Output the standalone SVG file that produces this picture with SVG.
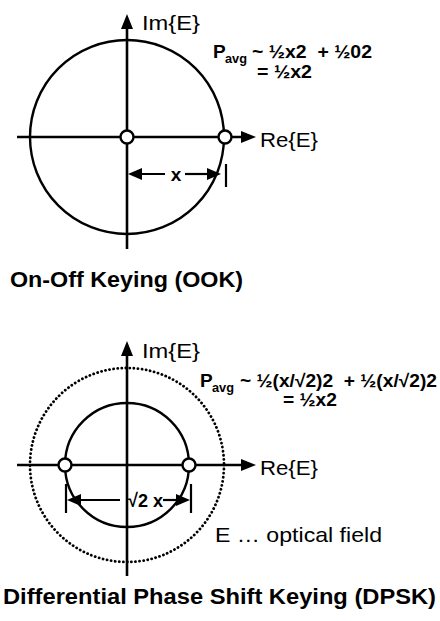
<svg xmlns="http://www.w3.org/2000/svg" width="440" height="621" viewBox="0 0 440 621">
<style>
.ax{stroke:#000;stroke-width:2.6;fill:none}
.cir{stroke:#000;stroke-width:2.4;fill:none}
.dot{stroke:#000;stroke-width:2.8;fill:none;stroke-linecap:round;stroke-dasharray:0.1 4}
.pt{stroke:#000;stroke-width:2.4;fill:#fff}
.dim{stroke:#000;stroke-width:2.2;fill:none}
.ah{fill:#000;stroke:none}
.lab{font-family:"Liberation Sans",Arial,sans-serif;font-size:21px;fill:#000}
.b{font-family:"Liberation Sans",Arial,sans-serif;font-weight:bold;fill:#000}
</style>
<rect width="440" height="621" fill="#fff"/>

<g id="ook">
  <circle class="cir" cx="127" cy="137" r="97"/>
  <g id="ook-axes">
    <line class="ax" x1="127" y1="249" x2="127" y2="26"/>
    <polygon class="ah" points="127,14 121,29 133,29"/>
    <line class="ax" x1="17" y1="137" x2="244" y2="137"/>
    <polygon class="ah" points="256,137 241,131 241,143"/>
  </g>
  <circle id="ook-p0" class="pt" cx="127" cy="137" r="6.5"/>
  <circle id="ook-p1" class="pt" cx="225" cy="137" r="6.5"/>
  <g id="ook-dim">
    <line class="dim" x1="132" y1="174" x2="165" y2="174"/>
    <polygon class="ah" points="128,174 142,168 142,180"/>
    <line class="dim" x1="185" y1="174" x2="216" y2="174"/>
    <polygon class="ah" points="221,174 207,168 207,180"/>
    <line class="dim" x1="226" y1="164" x2="226" y2="187"/>
    <text class="b" x="176" y="181" font-size="19" text-anchor="middle">x</text>
  </g>
  <text class="lab" x="142" y="30" textLength="58" lengthAdjust="spacingAndGlyphs">Im{E}</text>
  <text class="lab" x="260" y="147" textLength="58" lengthAdjust="spacingAndGlyphs">Re{E}</text>
  <g id="ook-formula">
    <text class="b" x="213" y="58" font-size="19">P</text>
    <text class="b" x="225" y="63" font-size="13" textLength="22" lengthAdjust="spacingAndGlyphs">avg</text>
    <text class="b" x="252" y="58" font-size="18" xml:space="preserve" textLength="120" lengthAdjust="spacingAndGlyphs">~ ½x2  + ½02</text>
    <text class="b" x="257" y="78" font-size="18" textLength="55" lengthAdjust="spacingAndGlyphs">= ½x2</text>
  </g>
  <text class="b" x="10" y="287" font-size="21.5" textLength="233" lengthAdjust="spacingAndGlyphs">On-Off Keying (OOK)</text>
</g>

<g id="dpsk">
  <circle class="dot" cx="127" cy="465" r="97"/>
  <circle class="cir" cx="127" cy="465" r="62"/>
  <g id="dpsk-axes">
    <line class="ax" x1="127" y1="576" x2="127" y2="353"/>
    <polygon class="ah" points="127,341 121,356 133,356"/>
    <line class="ax" x1="17" y1="465" x2="244" y2="465"/>
    <polygon class="ah" points="256,465 241,459 241,471"/>
  </g>
  <circle id="dpsk-p0" class="pt" cx="65" cy="465" r="6.5"/>
  <circle id="dpsk-p1" class="pt" cx="189" cy="465" r="6.5"/>
  <g id="dpsk-dim">
    <line class="dim" x1="72" y1="500" x2="120" y2="500"/>
    <polygon class="ah" points="67,500 81,494 81,506"/>
    <line class="dim" x1="163" y1="500" x2="185" y2="500"/>
    <polygon class="ah" points="190,500 176,494 176,506"/>
    <line class="dim" x1="66" y1="484" x2="66" y2="513"/>
    <line class="dim" x1="191" y1="484" x2="191" y2="513"/>
    <text class="b" x="128" y="507" font-size="19" textLength="35" lengthAdjust="spacingAndGlyphs">√2 x</text>
  </g>
  <text class="lab" x="142" y="358" textLength="58" lengthAdjust="spacingAndGlyphs">Im{E}</text>
  <text class="lab" x="260" y="475" textLength="58" lengthAdjust="spacingAndGlyphs">Re{E}</text>
  <g id="dpsk-formula">
    <text class="b" x="200" y="387" font-size="19">P</text>
    <text class="b" x="212" y="392" font-size="13" textLength="22" lengthAdjust="spacingAndGlyphs">avg</text>
    <text class="b" x="240" y="387" font-size="18" xml:space="preserve" textLength="197" lengthAdjust="spacingAndGlyphs">~ ½(x/√2)2  + ½(x/√2)2</text>
    <text class="b" x="283" y="406" font-size="18" textLength="54" lengthAdjust="spacingAndGlyphs">= ½x2</text>
  </g>
  <text class="lab" x="215" y="542" textLength="167" lengthAdjust="spacingAndGlyphs">E … optical field</text>
  <text class="b" x="3" y="604" font-size="21.5" textLength="433" lengthAdjust="spacingAndGlyphs">Differential Phase Shift Keying (DPSK)</text>
</g>
</svg>
